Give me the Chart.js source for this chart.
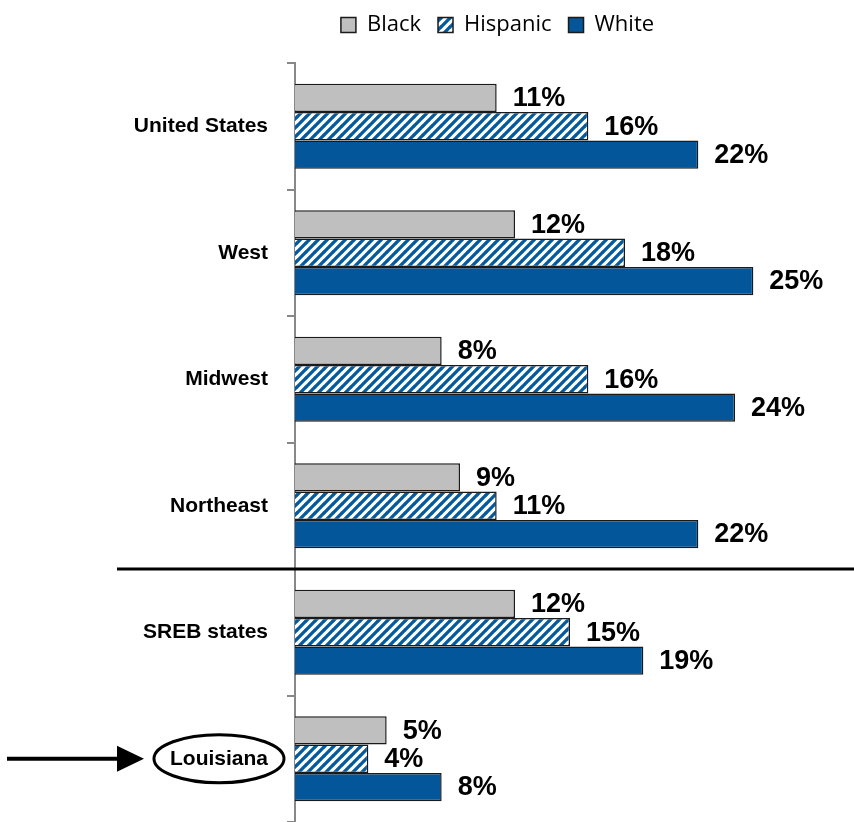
<!DOCTYPE html>
<html>
<head>
<meta charset="utf-8">
<script src="https://cdn.jsdelivr.net/npm/chart.js@4.4.0/dist/chart.umd.min.js"></script>
<style>
  html, body { margin: 0; padding: 0; background: #fff; }
  #wrap { width: 854px; height: 822px; position: relative; }
</style>
</head>
<body>
<div id="wrap"><canvas id="chart"></canvas></div>
<script>
const regions = ['United States', 'West', 'Midwest', 'Northeast', 'SREB states', 'Louisiana'];
const blackValues = [11, 12, 8, 9, 12, 5];
const hispanicValues = [16, 18, 16, 11, 15, 4];
const whiteValues = [22, 25, 24, 22, 19, 8];

const labelFont = 'bold 27px "Liberation Sans", Arial, sans-serif';
const catFont = { family: '"Liberation Sans", Arial, sans-serif', size: 21, weight: 'bold' };

// blue diagonal stripes on white
function makeHatch() {
  const s = 9;
  const c = document.createElement('canvas');
  c.width = s; c.height = s;
  const g = c.getContext('2d');
  g.fillStyle = '#fff';
  g.fillRect(0, 0, s, s);
  g.strokeStyle = '#045a9c';
  g.lineWidth = 3.3;
  g.beginPath();
  g.moveTo(-1, s + 1); g.lineTo(s + 1, -1);
  g.moveTo(-1, 1); g.lineTo(1, -1);
  g.moveTo(s - 1, s + 1); g.lineTo(s + 1, s - 1);
  g.stroke();
  return g.createPattern(c, 'repeat');
}
const hatch = makeHatch();

const extras = {
  id: 'extras',
  afterLayout(chart) {
    // nudge legend to sit over the bars like the original
    const lg = chart.legend;
    lg.left += 75; lg.right += 75;
    lg.top -= 17; lg.bottom -= 17;
  },
  afterDatasetsDraw(chart) {
    const ctx = chart.ctx;
    ctx.save();
    ctx.font = labelFont;
    ctx.fillStyle = '#000';
    ctx.textAlign = 'left';
    ctx.textBaseline = 'middle';
    chart.data.datasets.forEach((ds, di) => {
      const meta = chart.getDatasetMeta(di);
      meta.data.forEach((bar, i) => {
        ctx.fillText(ds.data[i] + '%', bar.x + 16, bar.y + 1);
      });
    });

    const y = chart.scales.y;
    // separator between regions and states
    const sepY = (y.getPixelForValue(3) + y.getPixelForValue(4)) / 2;
    ctx.strokeStyle = '#000';
    ctx.lineWidth = 3;
    ctx.beginPath();
    ctx.moveTo(117, sepY);
    ctx.lineTo(chart.width, sepY);
    ctx.stroke();

    // highlight Louisiana
    const ly = y.getPixelForValue(5);
    ctx.font = `${catFont.weight} ${catFont.size}px ${catFont.family}`;
    const tw = ctx.measureText('Louisiana').width;
    const right = y.right - 8 - 19;
    const cx = right - tw / 2;
    const rx = tw / 2 + 16;
    ctx.lineWidth = 3;
    ctx.beginPath();
    ctx.ellipse(cx, ly, rx, 24, 0, 0, Math.PI * 2);
    ctx.stroke();

    const tipX = cx - rx - 10;
    ctx.lineWidth = 4;
    ctx.beginPath();
    ctx.moveTo(7, ly);
    ctx.lineTo(tipX - 20, ly);
    ctx.stroke();
    ctx.fillStyle = '#000';
    ctx.beginPath();
    ctx.moveTo(tipX, ly);
    ctx.lineTo(tipX - 27, ly - 13);
    ctx.lineTo(tipX - 27, ly + 13);
    ctx.closePath();
    ctx.fill();
    ctx.restore();
  }
};

new Chart(document.getElementById('chart'), {
  type: 'bar',
  data: {
    labels: regions,
    datasets: [
      { label: 'Black', data: blackValues, backgroundColor: '#bfbfbf', borderColor: '#1a1a1a', borderWidth: 1.5 },
      { label: 'Hispanic', data: hispanicValues, backgroundColor: hatch, borderColor: '#1a1a1a', borderWidth: 1.5 },
      { label: 'White', data: whiteValues, backgroundColor: '#04569a', borderColor: '#1a1a1a', borderWidth: 1.5 }
    ]
  },
  options: {
    indexAxis: 'y',
    responsive: true,
    maintainAspectRatio: false,
    animation: false,
    layout: { padding: { left: 0, right: 9, top: 14, bottom: -3 } },
    datasets: { bar: { barPercentage: 1, categoryPercentage: 0.67 } },
    plugins: {
      tooltip: { enabled: false },
      legend: {
        position: 'top',
        labels: {
          color: '#000',
          font: { family: '"Open Sans", sans-serif', size: 22 },
          boxWidth: 15,
          boxHeight: 15,
          padding: 17
        }
      }
    },
    scales: {
      x: { display: false, min: 0, max: 30 },
      y: {
        afterFit(scale) {
          scale.width = 295;
          scale.paddingTop = 0;
          scale.paddingBottom = 0;
        },
        border: { display: true, color: '#888', width: 2 },
        grid: { drawOnChartArea: false, color: '#888', lineWidth: 2, tickLength: 8 },
        ticks: { color: '#000', font: catFont, padding: 19 }
      }
    }
  },
  plugins: [extras]
});
</script>
</body>
</html>
